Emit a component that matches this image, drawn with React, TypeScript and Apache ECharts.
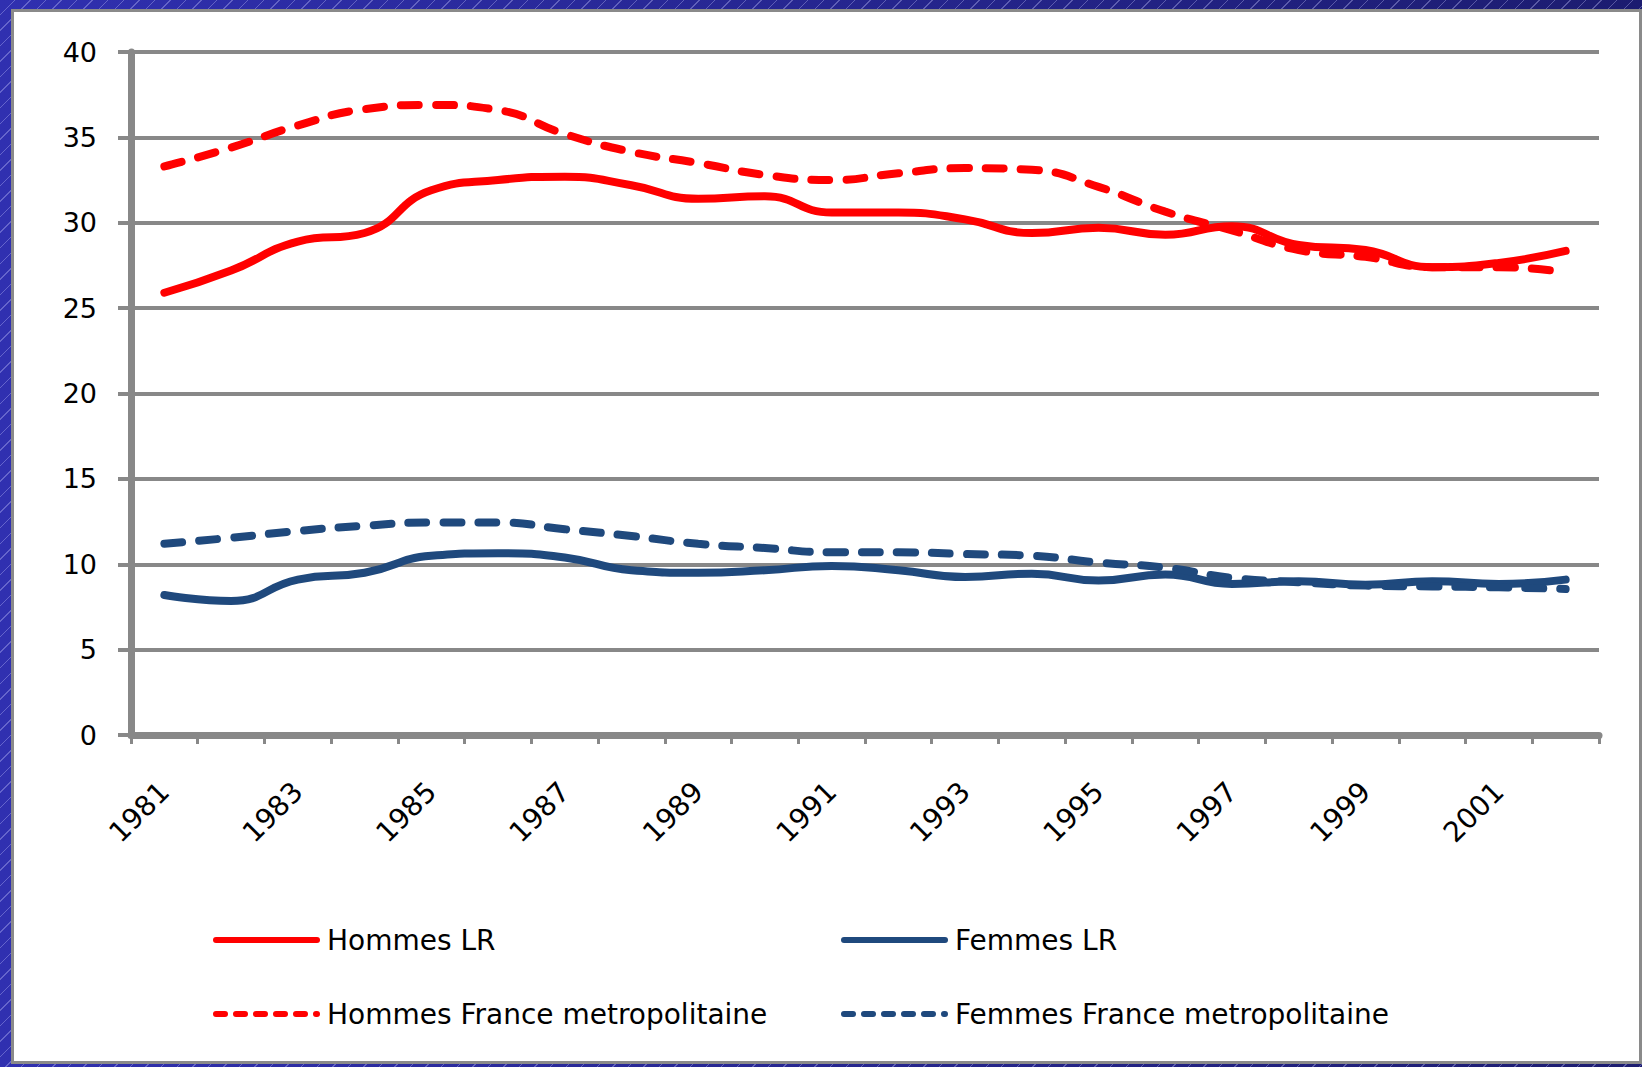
import React, { useEffect, useRef } from "react";
import * as echarts from "echarts";

const years = ["1981","1982","1983","1984","1985","1986","1987","1988","1989","1990","1991","1992","1993","1994","1995","1996","1997","1998","1999","2000","2001","2002"];
const yTicks = [0, 5, 10, 15, 20, 25, 30, 35, 40];
const hommesLR = [25.9, 27.2, 28.9, 29.4, 31.9, 32.5, 32.7, 32.2, 31.4, 31.55, 30.6, 30.6, 30.2, 29.4, 29.7, 29.3, 29.8, 28.7, 28.4, 27.4, 27.65, 28.35];
const hommesFrance = [33.3, 34.4, 35.7, 36.65, 36.9, 36.6, 35.2, 34.15, 33.5, 32.8, 32.5, 32.9, 33.2, 33.1, 32.1, 30.65, 29.55, 28.4, 28.0, 27.4, 27.4, 27.1];
const femmesLR = [8.2, 7.85, 9.1, 9.5, 10.5, 10.65, 10.4, 9.65, 9.5, 9.65, 9.9, 9.65, 9.25, 9.45, 9.05, 9.4, 8.85, 9.0, 8.8, 9.0, 8.85, 9.1];
const femmesFrance = [11.2, 11.55, 11.95, 12.25, 12.45, 12.45, 12.05, 11.65, 11.2, 10.95, 10.7, 10.7, 10.6, 10.5, 10.1, 9.8, 9.2, 8.95, 8.75, 8.7, 8.65, 8.55];
const seriesNames = ["Hommes LR", "Femmes LR", "Hommes France metropolitaine", "Femmes France metropolitaine"];

const RED = "#ff0000";
const BLUE = "#1f497d";
const GRAY = "#888888";
const FONT = "DejaVu Sans";

export default function App() {
  const ref = useRef<HTMLDivElement>(null);
  useEffect(() => {
    if (!ref.current) return;
    const chart = echarts.init(ref.current, null, { renderer: "svg" });
    const mkLegend = (name: string, left: number, top: number, color: string, dashed: boolean) => ({
      data: [name],
      left,
      top,
      orient: "horizontal",
      itemWidth: 101,
      itemHeight: 26,
      padding: 0,
      selectedMode: false,
      itemStyle: { opacity: 0, color: "transparent", borderWidth: 0 },
      lineStyle: { width: 6, color, type: dashed ? [9, 11] : "solid", cap: "round", opacity: 1 },
      textStyle: { fontSize: 28, color: "#000", fontFamily: FONT, padding: [0, 0, 0, 5] },
    });
    const mkSeries = (name: string, data: number[], color: string, dashed: boolean) => ({
      name,
      type: "line",
      data,
      smooth: true,
      symbol: "none",
      showSymbol: false,
      lineStyle: { width: 8, color, type: dashed ? [18, 17] : "solid", cap: "round" },
      itemStyle: { color },
    });
    chart.setOption({
      animation: false,
      backgroundColor: "transparent",
      grid: { left: 131, right: 43, top: 52, bottom: 332, containLabel: false },
      legend: [
        mkLegend(seriesNames[0], 213, 926, RED, false),
        mkLegend(seriesNames[1], 841, 926, BLUE, false),
        mkLegend(seriesNames[2], 213, 1000, RED, true),
        mkLegend(seriesNames[3], 841, 1000, BLUE, true),
      ],
      xAxis: {
        type: "category",
        data: years,
        boundaryGap: true,
        axisLine: { show: true, lineStyle: { color: GRAY, width: 7 } },
        axisTick: { show: true, interval: 0, length: 9, lineStyle: { color: GRAY, width: 3 } },
        axisLabel: { interval: 1, rotate: 45, fontSize: 28, color: "#000", fontFamily: FONT, margin: 52 },
        splitLine: { show: false },
      },
      yAxis: {
        type: "value",
        min: yTicks[0],
        max: yTicks[yTicks.length - 1],
        interval: 5,
        axisLine: { show: true, lineStyle: { color: GRAY, width: 7 } },
        axisTick: { show: true, length: 13, lineStyle: { color: GRAY, width: 4 } },
        axisLabel: { fontSize: 27, color: "#000", fontFamily: FONT, margin: 34 },
        splitLine: { show: true, lineStyle: { color: GRAY, width: 4 } },
      },
      series: [
        mkSeries(seriesNames[0], hommesLR, RED, false),
        mkSeries(seriesNames[1], femmesLR, BLUE, false),
        mkSeries(seriesNames[2], hommesFrance, RED, true),
        mkSeries(seriesNames[3], femmesFrance, BLUE, true),
      ],
    });
    return () => chart.dispose();
  }, []);

  return (
    <div
      style={{
        position: "fixed",
        left: 0,
        top: 0,
        width: 1642,
        height: 1067,
        overflow: "hidden",
        backgroundColor: "#26268f",
        backgroundImage:
          "repeating-linear-gradient(135deg, rgba(255,255,255,0) 0px, rgba(255,255,255,0) 10px, rgba(200,200,255,0.35) 10px, rgba(200,200,255,0.35) 11px), linear-gradient(to right, #3030b0, #1c1c70)",
      }}
    >
      <div
        style={{
          position: "absolute",
          left: 11,
          top: 9,
          width: 1631,
          height: 1055,
          boxSizing: "border-box",
          background: "#ffffff",
          border: "3px solid #8a8a8a",
        }}
      />
      <div ref={ref} style={{ position: "absolute", left: 0, top: 0, width: 1642, height: 1067 }} />
    </div>
  );
}
